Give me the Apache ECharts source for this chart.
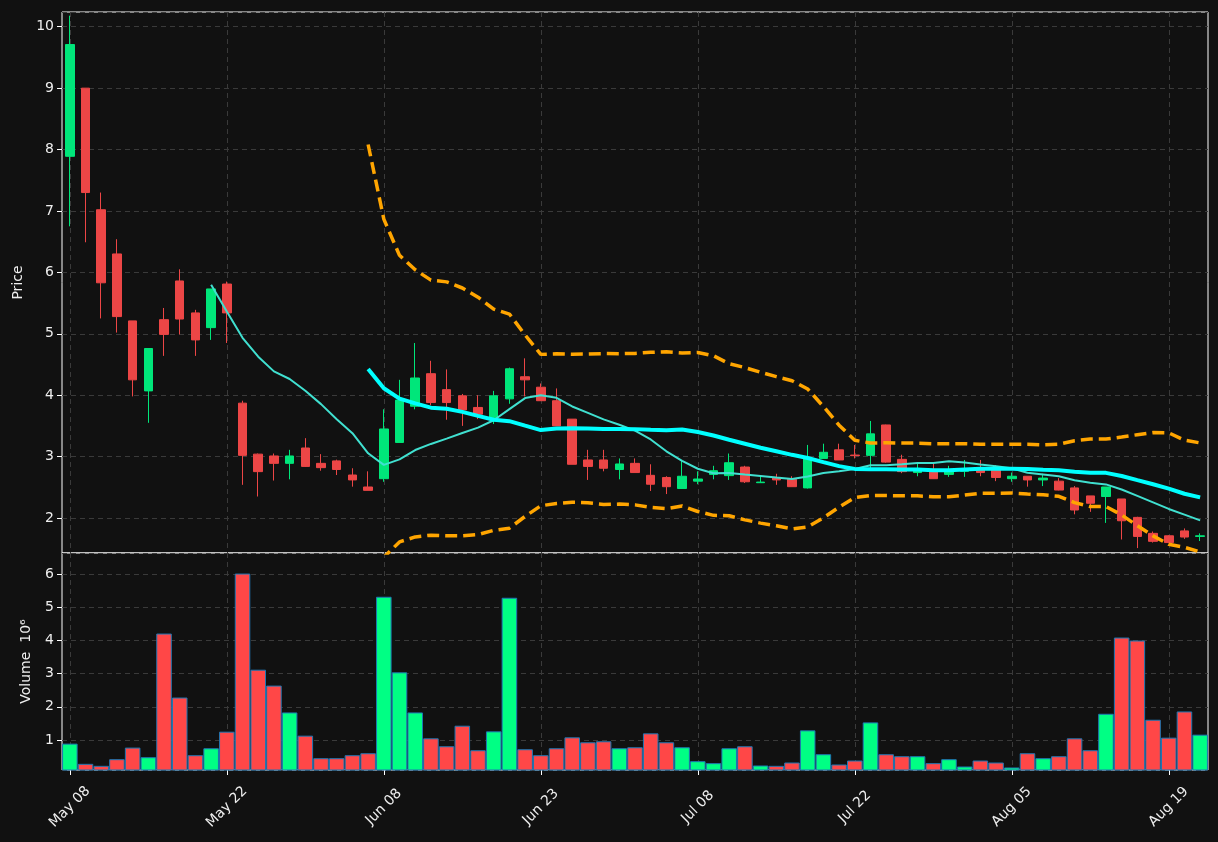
<!DOCTYPE html>
<html><head><meta charset="utf-8">
<script src="https://cdn.jsdelivr.net/npm/echarts@6/dist/echarts.min.js"></script>
<style>html,body{margin:0;padding:0;background:#111111;}#chart{width:1218px;height:842px;}</style>
</head><body><div id="chart"></div>
<script>
const dates = ["May 08","May 11","May 12","May 13","May 14","May 15","May 18","May 19","May 20","May 21",
"May 22","May 26","May 27","May 28","May 29","Jun 01","Jun 02","Jun 03","Jun 04","Jun 05",
"Jun 08","Jun 09","Jun 10","Jun 11","Jun 12","Jun 15","Jun 16","Jun 17","Jun 18","Jun 22",
"Jun 23","Jun 24","Jun 25","Jun 26","Jun 29","Jun 30","Jul 01","Jul 02","Jul 06","Jul 07",
"Jul 08","Jul 09","Jul 10","Jul 13","Jul 14","Jul 15","Jul 16","Jul 17","Jul 20","Jul 21",
"Jul 22","Jul 23","Jul 24","Jul 27","Jul 28","Jul 29","Jul 30","Jul 31","Aug 03","Aug 04",
"Aug 05","Aug 06","Aug 07","Aug 10","Aug 11","Aug 12","Aug 13","Aug 14","Aug 17","Aug 18",
"Aug 19","Aug 20","Aug 21"];
const opens = [7.89,9.00,7.02,6.30,5.21,4.07,5.23,5.86,5.34,5.10,
5.81,3.87,3.04,3.01,2.89,3.14,2.89,2.93,2.70,2.505,
2.64,3.23,3.82,4.35,4.09,3.99,3.80,3.60,3.94,4.30,
4.13,3.91,3.61,2.945,2.945,2.79,2.89,2.695,2.66,2.48,
2.60,2.71,2.69,2.83,2.575,2.66,2.63,2.49,2.97,3.11,
3.025,3.02,3.515,2.955,2.74,2.77,2.71,2.76,2.79,2.79,
2.64,2.68,2.62,2.60,2.49,2.36,2.35,2.31,2.01,1.75,
1.71,1.79,1.70];
const highs = [10.18,9.00,7.30,6.54,5.21,4.76,5.42,6.05,5.39,5.73,
5.85,3.91,3.05,3.05,3.11,3.30,3.04,2.95,2.81,2.76,
3.77,4.25,4.85,4.56,4.42,4.02,4.00,4.07,4.45,4.60,
4.19,4.11,3.61,3.11,3.11,2.97,2.97,2.875,2.68,2.93,
2.76,2.85,3.05,2.85,2.67,2.72,2.68,3.19,3.21,3.21,
3.19,3.58,3.52,3.03,2.88,2.89,2.85,2.945,2.945,2.86,
2.74,2.68,2.72,2.65,2.52,2.36,2.505,2.31,2.02,1.78,
1.72,1.83,1.75];
const lows = [6.75,6.49,5.25,5.02,3.98,3.55,4.64,4.99,4.64,4.90,
4.85,2.54,2.35,2.61,2.63,2.83,2.77,2.70,2.51,2.45,
2.59,3.23,3.77,3.84,3.60,3.50,3.61,3.53,3.86,3.98,
3.91,3.50,2.875,2.62,2.76,2.63,2.74,2.44,2.39,2.48,
2.55,2.63,2.62,2.57,2.575,2.54,2.51,2.48,2.97,2.945,
2.97,2.77,2.90,2.73,2.68,2.64,2.67,2.67,2.68,2.60,
2.59,2.51,2.52,2.45,2.06,2.10,1.92,1.65,1.51,1.60,
1.59,1.66,1.625];
const closes = [9.71,7.30,5.83,5.28,4.25,4.76,4.99,5.24,4.90,5.73,
5.34,3.02,2.755,2.89,3.01,2.84,2.82,2.79,2.62,2.45,
3.45,3.92,4.28,3.88,3.88,3.76,3.69,3.99,4.43,4.25,
3.91,3.50,2.875,2.84,2.81,2.88,2.74,2.55,2.51,2.68,
2.635,2.77,2.90,2.59,2.585,2.62,2.51,2.97,3.07,2.945,
3.015,3.37,2.91,2.755,2.79,2.64,2.77,2.79,2.74,2.66,
2.68,2.62,2.65,2.455,2.13,2.24,2.505,1.955,1.70,1.62,
1.60,1.69,1.71];
const volumes = [0.89,0.28,0.22,0.42,0.77,0.48,4.21,2.28,0.54,0.75,
1.25,6.02,3.12,2.64,1.83,1.13,0.45,0.45,0.54,0.60,
5.32,3.04,1.83,1.05,0.81,1.43,0.69,1.26,5.29,0.72,
0.54,0.75,1.08,0.93,0.96,0.75,0.78,1.20,0.93,0.78,
0.36,0.30,0.75,0.81,0.23,0.22,0.32,1.29,0.57,0.26,
0.38,1.53,0.57,0.51,0.51,0.30,0.42,0.20,0.38,0.32,
0.17,0.60,0.45,0.51,1.05,0.69,1.79,4.09,4.00,1.61,
1.07,1.86,1.16];
const priceTicks = [2,3,4,5,6,7,8,9,10];
const volumeTicks = [1,2,3,4,5,6];

const UP = '#00e67a', DOWN = '#ec4646';
const VUP = '#00ff84', VDOWN = '#ff4747';

function sma(arr, n) {
  return arr.map((v, i) => {
    if (i < n - 1) return '-';
    let s = 0; for (let j = i - n + 1; j <= i; j++) s += arr[j];
    return s / n;
  });
}
function band(arr, n, k) {
  return arr.map((v, i) => {
    if (i < n - 1) return '-';
    let s = 0; for (let j = i - n + 1; j <= i; j++) s += arr[j];
    const m = s / n;
    let q = 0; for (let j = i - n + 1; j <= i; j++) q += (arr[j] - m) * (arr[j] - m);
    return m + k * Math.sqrt(q / n);
  });
}
const ma10 = sma(closes, 10);
const ma20 = sma(closes, 20);
const bbUp = band(closes, 20, 2);
const bbLo = band(closes, 20, -2);

const candles = dates.map((d, i) => [opens[i], closes[i], lows[i], highs[i]]);
const volData = volumes.map((v, i) => ({
  value: v,
  itemStyle: { color: closes[i] >= opens[i] ? VUP : VDOWN }
}));

const txt = '#eeeeee';
const font = 'DejaVu Sans';
const gridLine = { show: true, lineStyle: { color: '#3a3a3a', type: [5, 4], width: 1 } };

const chart = echarts.init(document.getElementById('chart'), null, { renderer: 'canvas' });
chart.setOption({
  backgroundColor: '#111111',
  animation: false,
  textStyle: { fontFamily: font },
  grid: [
    { left: 62, top: 12, width: 1146, height: 541, show: true, borderColor: '#ffffff', borderWidth: 1, backgroundColor: '#111111' },
    { left: 62, top: 553, width: 1146, height: 217, show: true, borderColor: '#ffffff', borderWidth: 1, backgroundColor: '#111111' }
  ],
  xAxis: [
    { type: 'category', gridIndex: 0, data: dates, boundaryGap: true,
      axisLine: { show: false }, axisTick: { show: false }, axisLabel: { show: false },
      splitLine: Object.assign({ interval: 9, alignWithLabel: true }, gridLine) },
    { type: 'category', gridIndex: 1, data: dates, boundaryGap: true,
      axisLine: { show: false },
      axisTick: { show: true, interval: 9, alignWithLabel: true, length: 5, lineStyle: { color: '#ffffff' } },
      axisLabel: { interval: 9, rotate: 45, align: 'center', verticalAlign: 'middle', color: txt, fontSize: 14, fontFamily: font, margin: 37 },
      splitLine: Object.assign({ interval: 9, alignWithLabel: true }, gridLine) }
  ],
  yAxis: [
    { type: 'value', gridIndex: 0, min: 1.43, max: 10.24, splitNumber: 9, minInterval: 1, maxInterval: 1,
      name: 'Price', nameLocation: 'middle', nameGap: 36, nameRotate: 90,
      nameTextStyle: { color: txt, fontSize: 14, fontFamily: font },
      axisLine: { show: false },
      axisTick: { show: true, length: 5, lineStyle: { color: '#ffffff' } },
      axisLabel: { color: txt, fontSize: 14, fontFamily: font, showMinLabel: false, showMaxLabel: false,
        formatter: v => priceTicks.indexOf(Math.round(v * 100) / 100) >= 0 ? String(v) : '' },
      splitLine: gridLine },
    { type: 'value', gridIndex: 1, min: 0.094, max: 6.64, splitNumber: 6, minInterval: 1, maxInterval: 1,
      name: 'Volume  10⁶', nameLocation: 'middle', nameGap: 29, nameRotate: 90,
      nameTextStyle: { color: txt, fontSize: 14, fontFamily: font },
      axisLine: { show: false },
      axisTick: { show: true, length: 5, lineStyle: { color: '#ffffff' } },
      axisLabel: { color: txt, fontSize: 14, fontFamily: font, showMinLabel: false, showMaxLabel: false,
        formatter: v => volumeTicks.indexOf(Math.round(v * 100) / 100) >= 0 ? String(v) : '' },
      splitLine: gridLine }
  ],
  series: [
    { type: 'candlestick', xAxisIndex: 0, yAxisIndex: 0, data: candles, barWidth: 9, z: 2,
      itemStyle: { color: UP, color0: DOWN, borderColor: UP, borderColor0: DOWN, borderWidth: 1 } },
    { type: 'line', xAxisIndex: 0, yAxisIndex: 0, data: ma10, showSymbol: false, symbol: 'none', z: 3,
      lineStyle: { color: '#40e0d0', width: 2 } },
    { type: 'line', xAxisIndex: 0, yAxisIndex: 0, data: ma20, showSymbol: false, symbol: 'none', z: 4,
      lineStyle: { color: '#00ffff', width: 4 } },
    { type: 'line', xAxisIndex: 0, yAxisIndex: 0, data: bbUp, showSymbol: false, symbol: 'none', z: 5,
      lineStyle: { color: '#ffa500', width: 3.5, type: [12, 6] } },
    { type: 'line', xAxisIndex: 0, yAxisIndex: 0, data: bbLo, showSymbol: false, symbol: 'none', z: 5,
      lineStyle: { color: '#ffa500', width: 3.5, type: [12, 6] } },
    { type: 'bar', xAxisIndex: 1, yAxisIndex: 1, data: volData, barCategoryGap: '1%',
      itemStyle: { borderColor: '#1f77b4', borderWidth: 1 } }
  ]
});
</script></body></html>
